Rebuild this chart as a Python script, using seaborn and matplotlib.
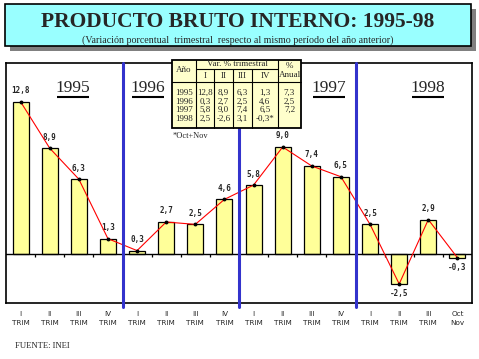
import pandas as pd
import numpy as np
import matplotlib
matplotlib.use("Agg")
import matplotlib.pyplot as plt
import seaborn as sns
from matplotlib.patches import Rectangle

# data
quarters = ["1995-I", "1995-II", "1995-III", "1995-IV",
            "1996-I", "1996-II", "1996-III", "1996-IV",
            "1997-I", "1997-II", "1997-III", "1997-IV",
            "1998-I", "1998-II", "1998-III", "1998-OctNov"]
growth = [12.8, 8.9, 6.3, 1.3, 0.3, 2.7, 2.5, 4.6, 5.8, 9.0, 7.4, 6.5, 2.5, -2.5, 2.9, -0.3]
tick_labels = ["I\nTRIM", "II\nTRIM", "III\nTRIM", "IV\nTRIM"] * 3 + \
              ["I\nTRIM", "II\nTRIM", "III\nTRIM", "Oct\nNov"]
years = ["1995", "1996", "1997", "1998"]

# inset table
table_years = ["1995", "1996", "1997", "1998"]
table_q = [["12,8", "8,9", "6,3", "1,3"],
           ["0,3", "2,7", "2,5", "4,6"],
           ["5,8", "9,0", "7,4", "6,5"],
           ["2,5", "-2,6", "3,1", "-0,3*"]]
table_annual = ["7,3", "2,5", "7,2", ""]

df = pd.DataFrame({"trim": quarters, "var": growth})

sns.set_style("white")
plt.rcParams["font.family"] = ["DejaVu Sans"]
serif = "Liberation Serif"

fig = plt.figure(figsize=(4.79, 3.59), dpi=100)
ax = fig.add_axes([6 / 479, 1 - 303 / 359, 466 / 479, 240 / 359])

sns.barplot(data=df, x="trim", y="var", color="#FFFF99", edgecolor="black",
            linewidth=0.9, width=0.55, saturation=1, ax=ax)
x = np.arange(len(growth))
ax.plot(x, growth, color="red", lw=0.8, marker="o", ms=1.8,
        mfc="black", mec="black", zorder=4)

ax.set_xlim(-0.5, len(growth) - 0.5)
ax.set_ylim(-4.1, 16.05)
ax.axhline(0, color="black", lw=1.0, zorder=3)
ax.vlines(np.arange(0.5, len(growth) - 1, 1), -0.25, 0, color="black", lw=0.9, zorder=3)
for b in [3.5, 7.5, 11.5]:
    ax.plot([b, b], [-4.45, 16.05], color="#3333CC", lw=2.2, clip_on=False, zorder=5)

for xi, v in zip(x, growth):
    lab = f"{v:.1f}".replace(".", ",")
    if v >= 0:
        ax.text(xi, v + 0.55, lab, ha="center", va="bottom", fontsize=5.5,
                family="DejaVu Sans Mono", weight="bold")
    else:
        ax.text(xi, v - 0.45, lab, ha="center", va="top", fontsize=5.5,
                family="DejaVu Sans Mono", weight="bold")

ax.set_xticks(x)
ax.set_xticklabels(tick_labels, fontsize=5.2, linespacing=1.5)
ax.tick_params(axis="x", length=0, pad=6)
ax.set_yticks([])
ax.set_xlabel("")
ax.set_ylabel("")
for s in ax.spines.values():
    s.set_visible(True)
    s.set_color("black")
    s.set_linewidth(1.2)

# year headings, underlined (axes-fraction coordinates of the main panel)
def to_ax(px, py):
    return (px - 6) / 466, (303 - py) / 240

for xc, yr in zip([72.5, 148, 329, 427.5], years):
    tx, ty = to_ax(xc, 88)
    ax.text(tx, ty, yr, transform=ax.transAxes, ha="center", va="center",
            fontsize=12.5, family=serif, zorder=6)
    ux0, uy = to_ax(xc - 16, 96.5)
    ux1, _ = to_ax(xc + 16, 96.5)
    ax.plot([ux0, ux1], [uy, uy], transform=ax.transAxes, color="black",
            lw=1.5, solid_capstyle="butt", zorder=6)

# overlay in pixel coordinates for title box and table
ov = fig.add_axes([0, 0, 1, 1])
ov.axis("off")
ov.patch.set_alpha(0)

ov.add_patch(Rectangle((10, 9), 466, 42, facecolor="#808080", edgecolor="none"))
ov.add_patch(Rectangle((5, 4), 466, 42, facecolor="#99FFFF", edgecolor="black", lw=1.2))
ov.text(238, 22, "PRODUCTO BRUTO INTERNO: 1995-98", ha="center", va="center",
        fontsize=15.5, weight="bold", family=serif)
ov.text(238, 40.5, "(Variación porcentual  trimestral  respecto al mismo período del año anterior)",
        ha="center", va="center", fontsize=7.2, family=serif)

# table
tx0, tx1, ty0, ty1 = 172, 301, 59.5, 127.5
cols = [172, 196, 214, 233, 252, 278, 301]
ov.add_patch(Rectangle((tx0, ty0), tx1 - tx0, ty1 - ty0, facecolor="#FFFFCC",
                       edgecolor="black", lw=1.3, zorder=6))
lk = dict(color="black", lw=0.8, zorder=7)
ov.plot([196, 278], [69, 69], **lk)
ov.plot([tx0, tx1], [82, 82], **lk)
ov.plot([196, 196], [ty0, ty1], **lk)
ov.plot([278, 278], [ty0, ty1], **lk)
for cx in cols[2:5]:
    ov.plot([cx, cx], [69, ty1], **lk)
tk = dict(fontsize=6.5, family=serif, ha="center", va="center", zorder=8)
ov.text(184, 70, "Año", **tk)
ov.text(237, 64, "Var. % trimestral", **tk)
ov.text(289.5, 70.5, "%\nAnual", linespacing=1.3, **tk)
for i, q in enumerate(["I", "II", "III", "IV"]):
    ov.text((cols[i + 1] + cols[i + 2]) / 2, 75.5, q, **tk)
for r, yr in enumerate(table_years):
    yy = 93 + r * 8.6
    ov.text(184, yy, yr, **tk)
    for i, v in enumerate(table_q[r]):
        ov.text((cols[i + 1] + cols[i + 2]) / 2, yy, v, **tk)
    ov.text(289.5, yy, table_annual[r], **tk)
ov.text(173, 136, "*Oct+Nov", fontsize=6, family=serif, ha="left", va="center")

ov.text(15, 346, "FUENTE: INEI", fontsize=6.2, family=serif, ha="left", va="center")

ov.set_xlim(0, 479)
ov.set_ylim(359, 0)

fig.savefig("out.png", dpi=100)
